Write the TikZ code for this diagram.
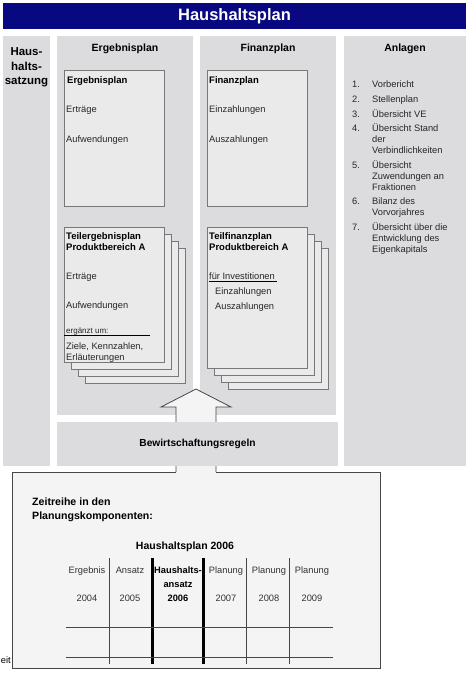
\documentclass[tikz,border=0pt]{standalone}
\usepackage{fontspec}
\setmainfont{Liberation Sans}
\definecolor{titleblue}{RGB}{8,8,128}
\definecolor{panelgray}{RGB}{220,220,222}
\definecolor{sheetgray}{RGB}{234,234,234}
\definecolor{sheetline}{RGB}{120,120,120}
\definecolor{zeitgray}{RGB}{244,244,244}
\definecolor{darkline}{RGB}{70,70,70}

\begin{document}
\begin{tikzpicture}[x=1pt, y=-1pt,
    panel/.style={fill=panelgray, anchor=north west, inner sep=0pt, outer sep=0pt},
    sheet/.style={draw=sheetline, fill=sheetgray, anchor=north west, inner sep=0pt, outer sep=0pt, minimum width=100pt},
    colhead/.style={font=\bfseries\fontsize{10.5}{12.5}\selectfont, inner sep=0pt},
    txt/.style={font=\fontsize{9.3}{11}\selectfont, anchor=base west, inner sep=0pt, align=left, text=black!85},
    btxt/.style={font=\bfseries\fontsize{9.5}{11}\selectfont, anchor=base west, inner sep=0pt, align=left},
    tabtxt/.style={font=\fontsize{9.3}{14}\selectfont, anchor=base, inner sep=0pt, text=black!80},
    rule/.style={draw=darkline, line width=0.8pt}
]
    \useasboundingbox (0,0) rectangle (473,673);

    % Title
    \node[fill=titleblue, anchor=north west, minimum width=463pt, minimum height=26pt, inner sep=0pt] (titlebar) at (3,3) {};
    \node[text=white, font=\bfseries\fontsize{16.5}{18}\selectfont, inner sep=0pt] (title) at (234.5,16) {Haushaltsplan};

    % Panels
    \node[panel, minimum width=47pt, minimum height=430pt] (satzung) at (3,36) {};
    \node[panel, minimum width=136pt, minimum height=379pt] (ergpanel) at (57,36) {};
    \node[panel, minimum width=136pt, minimum height=379pt] (finpanel) at (200,36) {};
    \node[panel, minimum width=122pt, minimum height=430pt] (anlagen) at (344,36) {};

    % (base of a multi-line node = its last line)
    \node[font=\bfseries\fontsize{11.5}{14.5}\selectfont, align=center, anchor=base, inner sep=0pt] (satzungtxt) at (26.5,84.5) {Haus-\\halts-\\satzung};
    \node[colhead] (ergtitle) at (125,49) {Ergebnisplan};
    \node[colhead] (fintitle) at (268,49) {Finanzplan};
    \node[colhead] (anltitle) at (405,49) {Anlagen};

    % Ergebnisplan sheets
    \node[sheet, minimum height=136pt] (ergsheet) at (64,70) {};
    \node[btxt] (ergsheettitle) at (67,83.5) {Ergebnisplan};
    \node[txt] (ertraege) at (66,112.5) {Erträge};
    \node[txt] (aufwendungen) at (66,142.5) {Aufwendungen};

    \foreach \i in {3,2,1} {
        \node[sheet, minimum height=135pt] (tergback\i) at ({64+7*\i},{227+7*\i}) {};
    }
    \node[sheet, minimum height=135pt] (tergsheet) at (64,227) {};
    \node[btxt] (tergtitle) at (66,250.5) {Teilergebnisplan\\Produktbereich A};
    \node[txt] (tertraege) at (66,279.5) {Erträge};
    \node[txt] (taufwendungen) at (66,308.5) {Aufwendungen};
    \node[txt, font=\fontsize{8}{10}\selectfont] (ergaenzt) at (66,333.5) {ergänzt um:};
    \draw[black, line width=0.8pt] (ergsheet.west |- 0,335.5) -- (150,335.5);
    \node[txt, font=\fontsize{9.3}{10.5}\selectfont] (ziele) at (66,360) {Ziele, Kennzahlen,\\Erläuterungen};

    % Finanzplan sheets
    \node[sheet, minimum height=136pt] (finsheet) at (207,70) {};
    \node[btxt] (finsheettitle) at (209,83.5) {Finanzplan};
    \node[txt] (einz) at (209,112.5) {Einzahlungen};
    \node[txt] (ausz) at (209,142.5) {Auszahlungen};

    \foreach \i in {3,2,1} {
        \node[sheet, minimum height=141pt] (tfinback\i) at ({207+7*\i},{227+7*\i}) {};
    }
    \node[sheet, minimum height=141pt] (tfinsheet) at (207,227) {};
    \node[btxt] (tfintitle) at (209,250.5) {Teilfinanzplan\\Produktbereich A};
    \node[txt] (invest) at (209,279.5) {für Investitionen};
    \draw[black, line width=0.8pt] (invest.west |- 0,281.5) -- (277,281.5);
    \node[txt] (teinz) at (215,294.5) {Einzahlungen};
    \node[txt] (tausz) at (215,309.5) {Auszahlungen};

    % Anlagen list
    \foreach \n/\y/\yl/\t in {1/87.5/87.5/Vorbericht, 2/102.5/102.5/Stellenplan, 3/117.5/117.5/Übersicht VE,
        4/131.5/153.5/{Übersicht Stand\\der\\Verbindlichkeiten}, 5/168.5/190.5/{Übersicht\\Zuwendungen an\\Fraktionen},
        6/204.5/215.5/{Bilanz des\\Vorvorjahres}, 7/230.5/252.5/{Übersicht über die\\Entwicklung des\\Eigenkapitals}} {
        \node[txt] (anlnum\n) at (352,\y) {\n.};
        \node[txt] (anl\n) at (372,\yl) {\t};
    }

    % Arrow
    \coordinate (shaftL) at (176,472);
    \coordinate (shaftR) at (216,472);
    \draw[draw=darkline, fill=zeitgray, line width=0.8pt, line join=miter]
        (shaftL) -- (176,407) -- (161,407) -- (196,389) -- (231,407) -- (216,407) -- (shaftR);

    \node[panel, minimum width=281pt, minimum height=44pt] (bewbox) at (57,422) {};
    \node[font=\bfseries\fontsize{10.2}{12}\selectfont, inner sep=0pt] (bewtxt) at (bewbox.center) {Bewirtschaftungsregeln};

    % Zeitreihe
    \node[anchor=north west, fill=zeitgray, minimum width=368pt, minimum height=196pt, inner sep=0pt] (zeitbox) at (12,472) {};
    \draw[darkline, line width=0.9pt] (shaftR) -- (zeitbox.north east) -- (zeitbox.south east)
        -- (zeitbox.south west) -- (zeitbox.north west) -- (shaftL);
    \node[font=\bfseries\fontsize{10.6}{14}\selectfont, anchor=base west, align=left, inner sep=0pt] (zeittxt) at (32,519.8) {Zeitreihe in den\\Planungskomponenten:};

    \node[font=\bfseries\fontsize{10.5}{12}\selectfont, anchor=base, inner sep=0pt] (hplan2006) at (185,549) {Haushaltsplan 2006};
    \foreach \x/\h/\yr in {87/Ergebnis/2004, 130/Ansatz/2005, 226/Planung/2007, 269/Planung/2008, 312/Planung/2009} {
        \node[tabtxt] (hd\yr) at (\x,573.4) {\h};
        \node[tabtxt] (yr\yr) at (\x,601.4) {\yr};
    }
    \node[tabtxt, font=\bfseries\fontsize{9.3}{14}\selectfont, align=center, text=black] (hd2006) at (178,587.4) {Haushalts-\\ansatz};
    \node[tabtxt, font=\bfseries\fontsize{9.3}{12}\selectfont, text=black] (yr2006) at (178,601.4) {2006};

    \foreach \x in {109,246,289} {
        \draw[rule] (\x,558) -- (\x,664);
    }
    \foreach \x in {152,203} {
        \draw[black, line width=3pt] (\x,558) -- (\x,664);
    }
    \foreach \y in {627,657} {
        \draw[rule] (66,\y) -- (333,\y);
    }

    \node[font=\fontsize{9.3}{11}\selectfont, anchor=base east, inner sep=0pt] (eit) at (11,663) {eit};
\end{tikzpicture}
\end{document}
